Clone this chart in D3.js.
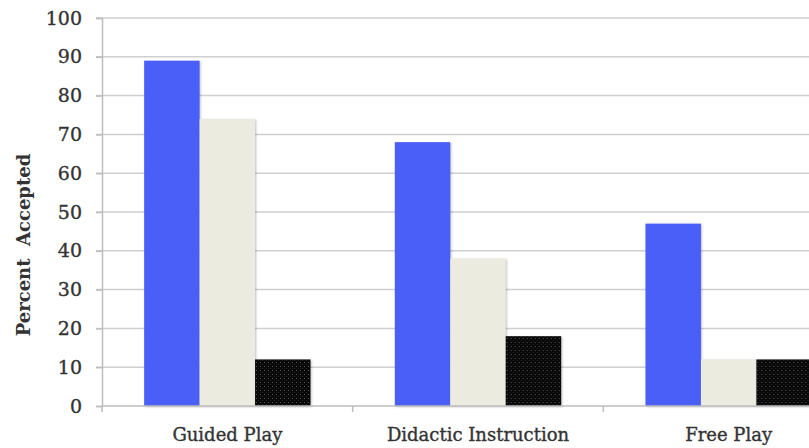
<!DOCTYPE html>
<html>
<head>
<meta charset="utf-8">
<script src="https://cdn.jsdelivr.net/npm/d3@7"></script>
<style>
  html, body { margin: 0; padding: 0; background: #fff; }
  svg { display: block; }
  text { font-family: "DejaVu Serif", "Liberation Serif", serif; fill: #333; }
</style>
</head>
<body>
<svg id="chart" width="809" height="448"></svg>
<script>
'use strict';

// data
var categories = ['Guided Play', 'Didactic Instruction', 'Free Play'];
var seriesNames = ['Series 1', 'Series 2', 'Series 3'];
var series1 = [89, 68, 47];
var series2 = [74, 38, 12];
var series3 = [12, 18, 12];
var yTicks = [0, 10, 20, 30, 40, 50, 60, 70, 80, 90, 100];
var colors = ['#4a5ef8', '#ebebe0', 'url(#dots)'];

var rows = categories.map(function (c, i) {
    return { cat: c, vals: [series1[i], series2[i], series3[i]] };
});

var svg = d3.select('#chart');

// dotted fill of the dark series
var pat = svg.append('defs').append('pattern')
    .attr('id', 'dots')
    .attr('patternUnits', 'userSpaceOnUse')
    .attr('width', 4).attr('height', 4);
pat.append('rect').attr('width', 4).attr('height', 4).attr('fill', '#080808');
pat.append('rect').attr('x', 2).attr('y', 2).attr('width', 1).attr('height', 1).attr('fill', '#5a5a5a');
pat.append('rect').attr('x', 0).attr('y', 0).attr('width', 1).attr('height', 1).attr('fill', '#2a2a2a');

var plotLeft = 102, plotTop = 18, plotBottom = 406;

var y = d3.scaleLinear().domain([0, 100]).range([plotBottom, plotTop]);
// the plot runs past the right edge of the picture
var x0 = d3.scaleBand().domain(categories).range([plotLeft, 854]);
var x1 = d3.scaleBand().domain(seriesNames).range([0, x0.bandwidth()])
    .paddingInner(0).paddingOuter(0.76);

// grid
svg.append('g').selectAll('line').data(yTicks.slice(1)).enter().append('line')
    .attr('x1', plotLeft - 6).attr('x2', 809)
    .attr('y1', function (d) { return y(d); })
    .attr('y2', function (d) { return y(d); })
    .attr('stroke', '#cfcfcf').attr('stroke-width', 1.5);

// y axis
var yAxis = svg.append('g').attr('transform', 'translate(' + plotLeft + ',0)')
    .call(d3.axisLeft(y).tickValues(yTicks).tickSize(6).tickPadding(14));
yAxis.attr('font-family', null).attr('font-size', null);
yAxis.select('.domain').attr('stroke', '#bdbdbd').attr('stroke-width', 1.5);
yAxis.selectAll('.tick line').attr('stroke', '#bdbdbd').attr('stroke-width', 1.5);
yAxis.selectAll('.tick text').attr('font-size', 19).attr('fill', '#333')
    .attr('stroke', '#333').attr('stroke-width', 0.35);

// bars
var groups = svg.append('g').selectAll('g').data(rows).enter().append('g')
    .attr('transform', function (d) { return 'translate(' + x0(d.cat) + ',0)'; });

groups.selectAll('rect').data(function (d) {
    return d.vals.map(function (v, i) { return { name: seriesNames[i], v: v, i: i }; });
}).enter().append('rect')
    .attr('x', function (d) { return x1(d.name); })
    .attr('width', x1.bandwidth())
    .attr('y', function (d) { return y(d.v); })
    .attr('height', function (d) { return plotBottom - y(d.v); })
    .attr('fill', function (d) { return colors[d.i]; })
    .style('filter', 'drop-shadow(1px 1px 1px rgba(0,0,0,0.25))');

// x axis
var xAxis = svg.append('g').attr('transform', 'translate(0,' + plotBottom + ')')
    .call(d3.axisBottom(x0).tickSize(0).tickPadding(22));
xAxis.attr('font-family', null).attr('font-size', null);
xAxis.select('.domain').remove();
svg.append('line').attr('x1', plotLeft).attr('x2', 809)
    .attr('y1', plotBottom).attr('y2', plotBottom)
    .attr('stroke', '#bdbdbd').attr('stroke-width', 1.5);
svg.append('g').selectAll('line').data(categories).enter().append('line')
    .attr('x1', function (d) { return x0(d); })
    .attr('x2', function (d) { return x0(d); })
    .attr('y1', plotBottom).attr('y2', plotBottom + 6)
    .attr('stroke', '#bdbdbd').attr('stroke-width', 1.5);
xAxis.selectAll('.tick text').attr('font-size', 18).attr('fill', '#333')
    .attr('stroke', '#333').attr('stroke-width', 0.35);

// y title
svg.append('text')
    .attr('transform', 'translate(30,245) rotate(-90)')
    .attr('text-anchor', 'middle')
    .attr('font-size', 18).attr('font-weight', 'bold')
    .text('Percent\u00a0\u00a0Accepted');
</script>
</body>
</html>
